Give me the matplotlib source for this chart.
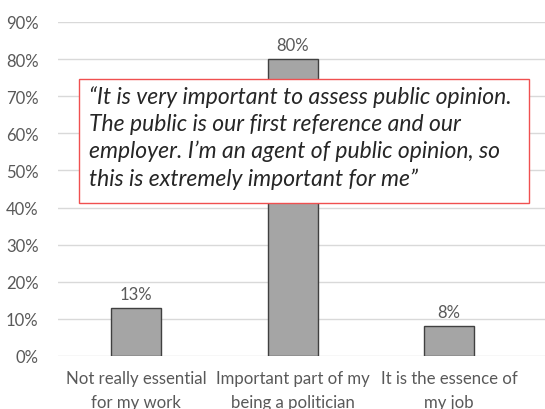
import matplotlib
matplotlib.use("Agg")
import matplotlib.pyplot as plt
from matplotlib.patches import Rectangle

categories = ["Not really essential\nfor my work", "Important part of my\nbeing a politician", "It is the essence of\nmy job"]
values = [0.13, 0.80, 0.08]
value_labels = ["13%", "80%", "8%"]
yticks = [0, 0.1, 0.2, 0.3, 0.4, 0.5, 0.6, 0.7, 0.8, 0.9]
ytick_labels = ["0%", "10%", "20%", "30%", "40%", "50%", "60%", "70%", "80%", "90%"]
quote = ("\u201cIt is very important to assess public opinion.\n"
         "The public is our first reference and our\n"
         "employer. I\u2019m an agent of public opinion, so\n"
         "this is extremely important for me\u201d")

plt.rcParams['font.family'] = ['Lato', 'DejaVu Sans']
txt = '#595959'

fig = plt.figure(figsize=(5.45, 4.10), dpi=100)
ax = fig.add_axes([58/545, 53/410, (545-58)/545, (357-23)/410])

x = list(range(len(categories)))
ax.bar(x, values, width=0.32, color='#A5A5A5', edgecolor='#404040', linewidth=1.0, zorder=3)
for xi, v, lab in zip(x, values, value_labels):
    ax.text(xi, v + 0.016, lab, ha='center', va='bottom', fontsize=12, color=txt)

ax.set_ylim(0, 0.9)
ax.set_xlim(-0.5, 2.613)
ax.set_yticks(yticks)
ax.set_yticklabels(ytick_labels, fontsize=12, color=txt)
ax.set_xticks(x)
ax.set_xticklabels(categories, fontsize=12.1, color=txt, linespacing=1.6)
ax.tick_params(axis='both', length=0)
ax.tick_params(axis='x', pad=10)
ax.tick_params(axis='y', pad=14)
ax.grid(axis='y', color='#D9D9D9', linewidth=1.0, zorder=0)
for s in ax.spines.values():
    s.set_visible(False)

# quote box
box_l, box_t, box_r, box_b = 79/545, 1 - 80/410, 529/545, 1 - 204/410
fig.patches.append(Rectangle((box_l, box_b), box_r - box_l, box_t - box_b,
                             transform=fig.transFigure, facecolor='white',
                             edgecolor='#F05050', linewidth=1.0, zorder=5))
fig.text(89/545, 1 - 86/410, quote, ha='left', va='top', fontsize=16.5, style='italic',
         color='#262626', linespacing=1.35, zorder=6)

fig.savefig("out.png", dpi=100)
